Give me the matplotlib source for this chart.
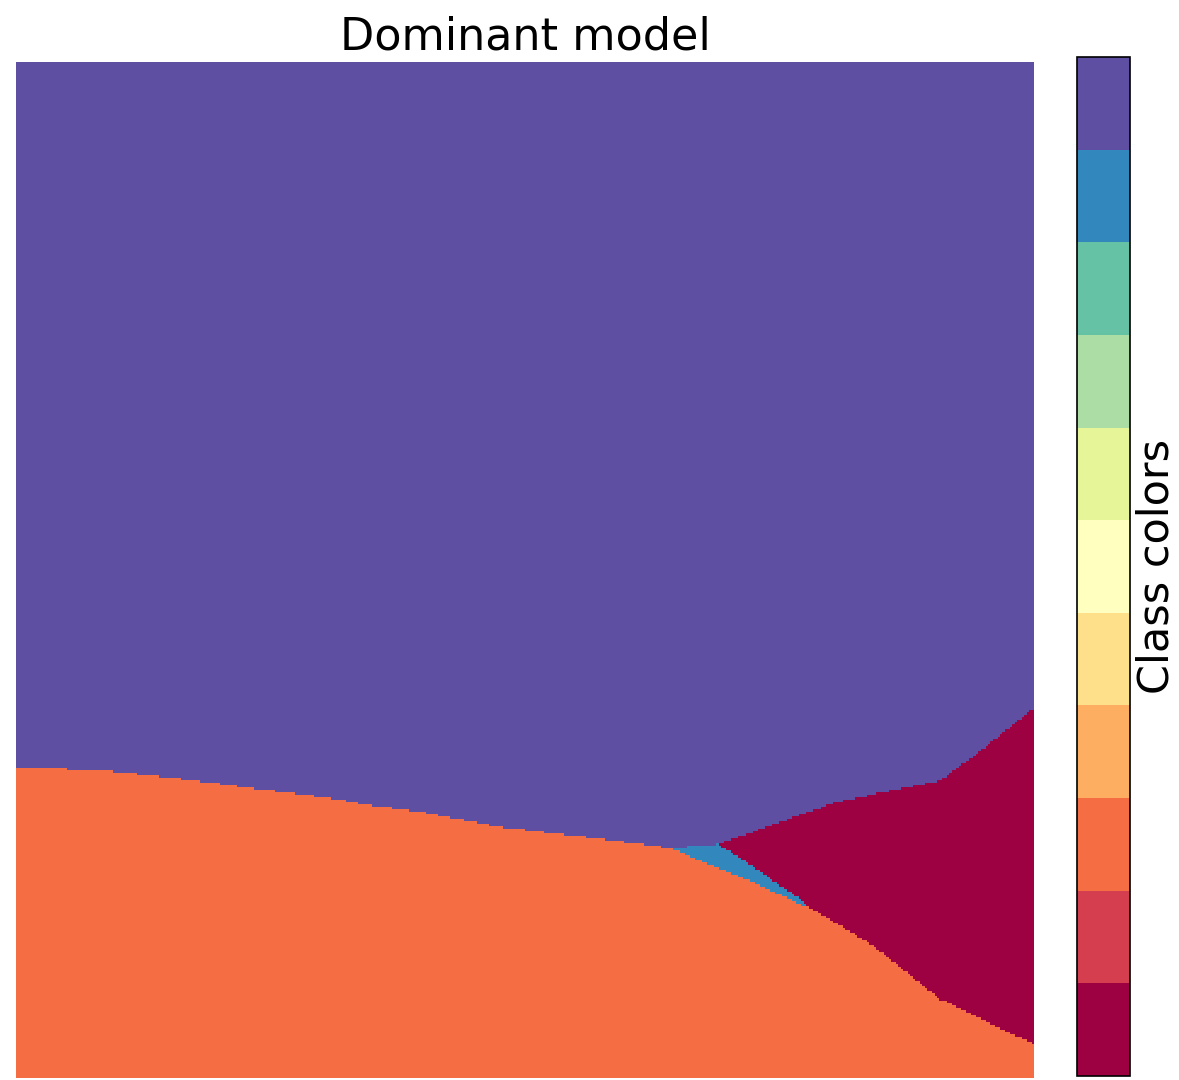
import numpy as np
import matplotlib
matplotlib.use("Agg")
import matplotlib.pyplot as plt
from matplotlib.colors import ListedColormap, BoundaryNorm

# Class indices and their colours (Spectral, 11 discrete classes)
n_classes = 11
class_ids = list(range(n_classes))

# Region boundaries in the unit square (x to the right, y upward)
# Upper edge of the non-purple area (purple = class 10 above it)
upper_x = [0.000, 0.041, 0.100, 0.179, 0.238, 0.297, 0.356, 0.395, 0.474,
           0.533, 0.592, 0.644, 0.690, 0.808, 0.907, 0.939, 1.000]
upper_y = [0.304, 0.304, 0.301, 0.292, 0.284, 0.277, 0.267, 0.262, 0.247,
           0.240, 0.233, 0.226, 0.230, 0.272, 0.292, 0.315, 0.364]

# Lower edge of class 0 (dark red) region, right-hand wedge
red_x = [0.690, 0.728, 0.770, 0.776, 0.841, 0.907, 1.000]
red_y = [0.230, 0.205, 0.176, 0.170, 0.131, 0.078, 0.033]

# Lower edge of class 9 (blue) sliver
blue_x = [0.644, 0.671, 0.721, 0.770, 0.776]
blue_y = [0.226, 0.214, 0.194, 0.171, 0.168]

orange_class = 2
red_class = 0
blue_class = 9
purple_class = 10

# Label grid
res = 420
gx = (np.arange(res) + 0.5) / res
gy = (np.arange(res) + 0.5) / res
X, Y = np.meshgrid(gx, gy)

top = np.interp(X, upper_x, upper_y)
red_low = np.interp(X, red_x, red_y)
blue_low = np.interp(X, blue_x, blue_y)

labels = np.full(X.shape, orange_class)
labels[Y > top] = purple_class
below = Y <= top
labels[below & (X >= blue_x[0]) & (X <= blue_x[-1]) & (Y > blue_low)] = blue_class
labels[below & (X >= red_x[0]) & (Y > red_low)] = red_class

spectral = plt.get_cmap("Spectral", n_classes)
cmap = ListedColormap([spectral(i) for i in class_ids])
norm = BoundaryNorm(np.arange(-0.5, n_classes + 0.5, 1), n_classes)

fig = plt.figure(figsize=(11.79, 10.80), dpi=100)
W, H = 1179, 1080
ax = fig.add_axes([16 / W, 1 - 1078 / H, (1034 - 16) / W, (1078 - 62) / H])
ax.imshow(labels, cmap=cmap, norm=norm, origin="lower", extent=[0, 1, 0, 1],
          interpolation="nearest", aspect="auto")
ax.set_axis_off()
ax.set_title("Dominant model", fontsize=32, pad=9)

cax = fig.add_axes([1077 / W, 1 - 1076 / H, (1130 - 1077) / W, (1076 - 57) / H])
sm = plt.cm.ScalarMappable(cmap=cmap, norm=norm)
cb = fig.colorbar(sm, cax=cax, ticks=[])
cb.ax.minorticks_off()
cb.ax.tick_params(length=0, which="both")
cb.outline.set_linewidth(1.2)
cb.set_label("Class colors", fontsize=31, labelpad=4)

fig.savefig("out.png", dpi=100)
